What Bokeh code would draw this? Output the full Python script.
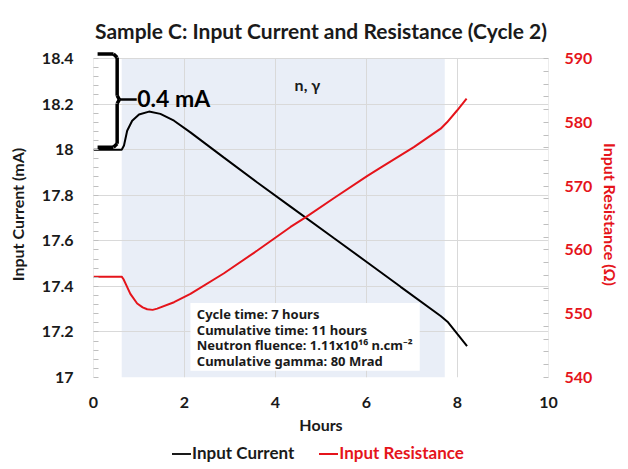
import numpy as np
from bokeh.plotting import figure
from bokeh.layouts import column
from bokeh.models import (Range1d, LinearAxis, FixedTicker, CustomJSTickFormatter,
                          BoxAnnotation, Label, Arrow, Div)
from bokeh.embed import file_html
from bokeh.resources import INLINE

# ---------------- data ----------------
hours_current = [0.0, 0.62, 0.67, 0.74, 0.85, 1.0, 1.22, 1.47, 1.77, 2.13, 2.86, 3.6,
                 4.33, 5.28, 6.02, 6.75, 7.63, 7.78, 8.0, 8.21]
current_mA = [18.0, 18.0, 18.018, 18.083, 18.127, 18.154, 18.167, 18.157, 18.127, 18.076,
              17.966, 17.856, 17.75, 17.612, 17.505, 17.398, 17.27, 17.245, 17.19, 17.138]

hours_res = [0.0, 0.62, 0.66, 0.7, 0.81, 0.96, 1.08, 1.18, 1.3, 1.4, 1.77, 2.13, 2.86, 3.6,
             4.33, 4.66, 5.28, 6.02, 6.31, 7.04, 7.63, 7.77, 7.99, 8.2]
resistance_ohm = [555.8, 555.8, 555.4, 554.8, 553.1, 551.6, 551.0, 550.7, 550.6, 550.8,
                  551.8, 553.1, 556.3, 559.9, 563.6, 565.1, 568.1, 571.6, 572.9, 576.1,
                  579.0, 580.0, 581.85, 583.7]

x_ticks = [0, 2, 4, 6, 8, 10]
x_tick_labels = ["0", "2", "4", "6", "8", "10"]
current_ticks = [17.0, 17.2, 17.4, 17.6, 17.8, 18.0, 18.2, 18.4]
current_tick_labels = ["17", "17.2", "17.4", "17.6", "17.8", "18", "18.2", "18.4"]
res_ticks = [540, 550, 560, 570, 580, 590]
res_tick_labels = ["540", "550", "560", "570", "580", "590"]

series_labels = ["Input Current", "Input Resistance"]

irradiation_start = 0.62
irradiation_end = 7.72

info_lines = ["Cycle time: 7 hours",
              "Cumulative time: 11 hours",
              "Neutron fluence: 1.11x10\u00b9\u2076 n.cm\u207b\u00b2",
              "Cumulative gamma: 80 Mrad"]
info_line_y = [17.277, 17.209, 17.141, 17.073]   # vertical slots of the text lines (mA axis)

# ---------------- style ----------------
FONT = "Lato"
RED = "#E5141B"
INK = "#1a1a1a"
GRID = "#D9D9D9"

cur_lo, cur_hi = current_ticks[0], current_ticks[-1]
res_lo, res_hi = res_ticks[0], res_ticks[-1]
headroom = 0.0308  # extra space above the top tick so the brace is not clipped
res_headroom = headroom * (res_hi - res_lo) / (cur_hi - cur_lo)


def fmt(tick_vals, tick_texts):
    return CustomJSTickFormatter(args=dict(tv=tick_vals, tl=tick_texts), code="""
        const i = tv.findIndex(t => Math.abs(t - tick) < 1e-6);
        return i >= 0 ? tl[i] : '';
    """)


p = figure(width=628, height=446, x_range=Range1d(0, 10),
           y_range=Range1d(cur_lo, cur_hi + headroom),
           output_backend="svg", toolbar_location=None,
           min_border_left=93, min_border_right=80, min_border_top=51, min_border_bottom=69,
           title="Sample C: Input Current and Resistance (Cycle 2)")
p.background_fill_color = "white"
p.border_fill_color = "white"
p.outline_line_color = None

p.title.text_font = FONT
p.title.text_font_size = "21px"
p.title.text_font_style = "bold"
p.title.align = "center"
p.title.text_color = INK
p.title.standoff = 17

p.extra_y_ranges = {"res": Range1d(res_lo, res_hi + res_headroom)}

# x axis
xa = p.xaxis[0]
xa.ticker = FixedTicker(ticks=x_ticks, minor_ticks=[])
xa.formatter = fmt(x_ticks, x_tick_labels)
xa.axis_label = "Hours"

# left axis
ya = p.yaxis[0]
ya.ticker = FixedTicker(ticks=current_ticks,
                        minor_ticks=[float(v) for v in np.round(np.arange(17.0, 18.41, 0.04), 3)])
ya.formatter = fmt(current_ticks, current_tick_labels)
ya.axis_label = "Input Current (mA)"

# right axis
ra = LinearAxis(y_range_name="res",
                ticker=FixedTicker(ticks=res_ticks, minor_ticks=list(range(540, 591, 2))),
                formatter=fmt(res_ticks, res_tick_labels),
                axis_label="Input Resistance (\u03a9)")
p.add_layout(ra, "right")

for ax in [xa, ya, ra]:
    ax.axis_line_color = None
    ax.major_tick_line_color = None
    ax.major_tick_out = 0
    ax.major_tick_in = 0
    ax.minor_tick_out = 0
    ax.minor_tick_in = 5
    ax.minor_tick_line_color = "#BFBFBF"
    ax.major_label_text_font = FONT
    ax.major_label_text_font_style = "bold"
    ax.major_label_text_font_size = "16px"
    ax.axis_label_text_font = FONT
    ax.axis_label_text_font_style = "bold"
    ax.axis_label_text_font_size = "16px"
    ax.major_label_text_color = INK
    ax.axis_label_text_color = INK

xa.major_label_standoff = 19
xa.axis_label_standoff = 4
ya.major_label_standoff = 20
ya.axis_label_standoff = 12
ra.major_label_standoff = 16
ra.axis_label_standoff = 6
ra.major_label_text_color = RED
ra.axis_label_text_color = RED

# grid: horizontal from the axis, vertical drawn only up to the top tick
p.xgrid.visible = False
p.ygrid.ticker = FixedTicker(ticks=current_ticks)
p.ygrid.grid_line_color = GRID

# irradiation band
p.add_layout(BoxAnnotation(left=irradiation_start, right=irradiation_end,
                           bottom=cur_lo, top=cur_hi,
                           fill_color="#E9EEF7", fill_alpha=1, line_color=None, level="image"))

vg = p.segment(x0=x_ticks, y0=[cur_lo] * len(x_ticks), x1=x_ticks, y1=[cur_hi] * len(x_ticks),
               line_color=GRID, line_width=1)
vg.level = "underlay"

# info box
p.add_layout(BoxAnnotation(left=2.13, right=7.17, bottom=17.03, top=17.327,
                           fill_color="white", fill_alpha=1, line_color=None, level="underlay"))
for line_text, ly in zip(info_lines, info_line_y):
    p.add_layout(Label(x=2.27, y=ly, text=line_text, text_baseline="middle",
                       text_font="Noto Sans", text_font_size="13px", text_font_style="bold",
                       text_color=INK))

# n, gamma
p.add_layout(Label(x=4.42, y=18.287, text="n, \u03b3", text_baseline="middle",
                   text_font=FONT, text_font_size="16px", text_font_style="bold",
                   text_color=INK))

# lines
l1 = p.line(hours_current, current_mA, line_color="black", line_width=2)
l2 = p.line(hours_res, resistance_ohm, line_color=RED, line_width=2, y_range_name="res")

# brace marking the 0.4 mA span
brace_x = [0.09, 0.44, 0.52, 0.52, 0.57, 0.52, 0.52, 0.44, 0.09]
brace_y = [18.42, 18.42, 18.404, 18.237, 18.22, 18.203, 18.026, 18.011, 18.011]
for i in range(len(brace_x) - 1):
    p.add_layout(Arrow(end=None, x_start=brace_x[i], y_start=brace_y[i],
                       x_end=brace_x[i + 1], y_end=brace_y[i + 1],
                       line_width=3.5, line_color="black"))
p.add_layout(Arrow(end=None, x_start=0.57, y_start=18.22, x_end=0.95, y_end=18.22,
                   line_width=2.5, line_color="black"))
p.add_layout(Label(x=0.96, y=18.228, text="0.4 mA", text_baseline="middle",
                   text_font=FONT, text_font_size="23px", text_font_style="bold",
                   text_color="black"))

# legend (HTML so each entry keeps its own colour)
def entry(label, color, extra=""):
    return (f'<span style="color:{color};{extra}">'
            f'<span style="display:inline-block;width:19px;height:0;border-top:2px solid {color};'
            f'vertical-align:middle;margin-right:1px;position:relative;top:-1px"></span>{label}</span>')

legend_html = (f'<div style="width:628px;text-align:center;font-family:Lato;font-weight:bold;'
               f'font-size:17px;line-height:23px;position:relative;top:-5px;padding-left:8px;'
               f'box-sizing:border-box;white-space:nowrap">'
               + entry(series_labels[0], INK)
               + entry(series_labels[1], RED, "margin-left:25px")
               + '</div>')
legend_div = Div(text=legend_html, width=628, height=23, margin=(0, 0, 0, 0))

layout = column(p, legend_div, spacing=0)
open("out.html", "w").write(file_html(layout, INLINE))
